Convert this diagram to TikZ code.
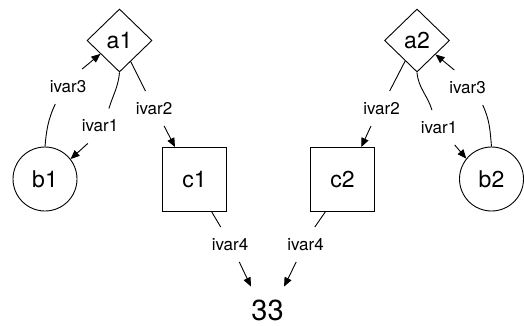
\documentclass[tikz,border=0pt]{standalone}
\usepackage{fontspec}
\setmainfont{TeX Gyre Heros}
\usetikzlibrary{shapes.geometric,arrows.meta}
\begin{document}
\begin{tikzpicture}[x=1pt,y=1pt,
  every path/.style={line width=0.9pt},
  bigtxt/.style={font=\fontsize{23}{27}\selectfont, inner sep=0pt},
  dia/.style={bigtxt, draw, diamond, minimum width=65pt, minimum height=63pt},
  circ/.style={bigtxt, draw, circle, minimum size=64pt},
  sq/.style={bigtxt, draw, rectangle, minimum width=64pt, minimum height=64pt},
  lab/.style={font=\fontsize{17}{20}\selectfont, rectangle, inner sep=0pt, minimum width=38pt, minimum height=34pt},
  arr/.style={-{Triangle[length=9pt,width=7.5pt]}}]
\useasboundingbox (0,0) rectangle (524,325);
% nodes
\node[dia]  (a1) at (119.5,284.5) {a1};
\node[dia]  (a2) at (417,284.5) {a2};
\node[circ] (b1) at (45,146) {b1};
\node[circ] (b2) at (491.5,146) {b2};
\node[sq]   (c1) at (194.5,145.5) {c1};
\node[sq]   (c2) at (342.5,145.5) {c2};
\node[font=\fontsize{29}{33}\selectfont, inner sep=0pt, minimum width=28pt, minimum height=46pt] (n33) at (267.5,15) {33};
% edge labels
\node[lab] (L1) at (100,199) {ivar1};
\node[lab] (L3) at (68,238.5) {ivar3};
\node[lab] (L2) at (154,216.5) {ivar2};
\node[lab] (L4) at (230,80.5) {ivar4};
\node[lab] (L5) at (305.5,80.5) {ivar4};
\node[lab] (L6) at (381.5,216.5) {ivar2};
\node[lab] (L7) at (439,197.5) {ivar1};
\node[lab] (L8) at (467.5,237.5) {ivar3};
% edges
\draw (a1.south) to[out=-95,in=73] (L1.63.4);
\draw[arr] (L1.235.5) -- (b1.38);
\draw (b1.north) to[out=85,in=245] (L3.234.6);
\draw[arr] (L3.51) -- (a1.215);
\draw (a1.-62) -- (L2.116);
\draw[arr] (L2.-60) -- (c1.121);
\draw (c1.-62.7) -- (L4.118.6);
\draw[arr] (L4.-62.7) -- (n33.north west);
\draw (c2.242.7) -- (L5.62.7);
\draw[arr] (L5.242.7) -- (n33.north east);
\draw (a2.240.8) -- (L6.65);
\draw[arr] (L6.239.6) -- (c2.60.7);
\draw (a2.south) to[out=-85,in=107] (L7.112);
\draw[arr] (L7.-48) -- (b2.141);
\draw (b2.north) to[out=95,in=-65] (L8.-49);
\draw[arr] (L8.127.6) -- (a2.-37);
\end{tikzpicture}
\end{document}
